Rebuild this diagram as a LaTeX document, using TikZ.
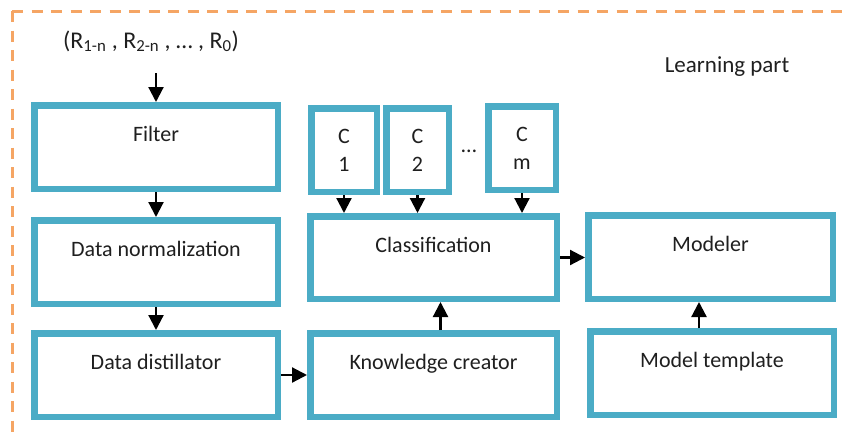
\documentclass[tikz,border=0pt]{standalone}
\usepackage{fontspec}
\setmainfont{Carlito}
\usetikzlibrary{arrows.meta}
\definecolor{boxblue}{RGB}{75,172,198}
\definecolor{frameorange}{RGB}{245,165,100}

\begin{document}
\begin{tikzpicture}[x=1pt,y=-1pt,
  box/.style={draw=boxblue, line width=6.5pt, fill=white, rectangle, inner sep=0pt},
  lbl/.style={anchor=base, yshift=-39pt, font=\fontsize{22}{28}\selectfont, text=black!88, inner sep=0pt},
  txt/.style={font=\fontsize{22}{28}\selectfont, text=black!88, inner sep=0pt, align=center},
  flow/.style={-{Triangle[length=15pt,width=15pt]}, line width=2.2pt},
  frame/.style={frameorange, line width=3pt, dash pattern=on 11pt off 8.5pt}]
  \useasboundingbox (0,0) rectangle (842,439);

  % frame of the learning part (open to the right and bottom)
  \draw[frame] (12,11) -- (842,11);
  \draw[frame] (12,11) -- (12,439);

  \node[txt, anchor=base, font=\fontsize{24}{28}\selectfont] (inlabel) at (151,48)
    {(R\textsubscript{1-n} , R\textsubscript{2-n} , … , R\textsubscript{0})};
  \node[txt, anchor=base, font=\fontsize{23}{28}\selectfont] (title) at (727,72) {Learning part};

  % left column
  \node[box, minimum width=243.5pt, minimum height=83.5pt,
        label={[lbl]north:Filter}] (filter) at (156,147) {};
  \node[box, minimum width=243.5pt, minimum height=83.5pt,
        label={[lbl]north:Data normalization}] (norm) at (156,262) {};
  \node[box, minimum width=243.5pt, minimum height=83.5pt,
        label={[lbl]north:Data distillator}] (distill) at (156,375) {};

  % classes
  \node[box, txt, minimum width=65.5pt, minimum height=83.5pt] (c1) at (344,150) {C\\1};
  \node[box, txt, minimum width=62.5pt, minimum height=83.5pt] (c2) at (417.5,150) {C\\2};
  \node[box, txt, minimum width=67.5pt, minimum height=83.5pt] (cm) at (522,148) {C\\m};
  \node[txt, anchor=base] (dots) at (469,152) {…};

  % middle column
  \node[box, minimum width=246.5pt, minimum height=82.5pt,
        label={[lbl]north:Classification}] (class) at (433.5,257.5) {};
  \node[box, minimum width=246.5pt, minimum height=83.5pt,
        label={[lbl]north:Knowledge creator}] (know) at (433.5,375) {};

  % right column
  \node[box, minimum width=244.5pt, minimum height=83.5pt,
        label={[lbl]north:Modeler}] (modeler) at (710.5,257) {};
  \node[box, minimum width=243.5pt, minimum height=83.5pt,
        label={[lbl]north:Model template}] (template) at (712,373) {};

  % connectors
  \coordinate (in) at (156,73);
  \draw[flow] (in) -- (filter.north);
  \draw[flow] (filter.south) -- (norm.north);
  \draw[flow] (norm.south) -- (distill.north);
  \draw[flow] (distill.east) -- (know.west);
  \draw[flow] ([xshift=7pt]know.north) -- ([xshift=7pt]know.north |- class.south);
  \draw[flow] (c1.south) -- (c1.south |- class.north);
  \draw[flow] (c2.south) -- (c2.south |- class.north);
  \draw[flow] (cm.south) -- (cm.south |- class.north);
  \draw[flow] (class.east) -- (class.east -| modeler.west);
  \draw[flow] ([xshift=-13pt]template.north) -- ([xshift=-13pt]template.north |- modeler.south);
\end{tikzpicture}
\end{document}
